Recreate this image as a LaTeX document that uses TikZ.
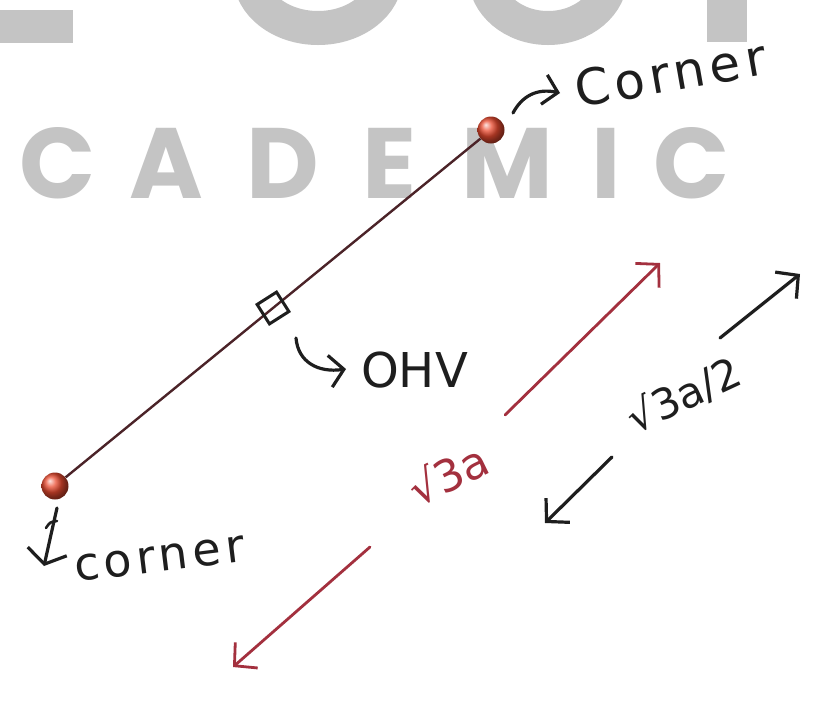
\documentclass[tikz,border=0pt]{standalone}
\usepackage{fontspec}
\setmainfont{DejaVu Sans}
\newfontfamily\wmfont{Poppins}
\newfontfamily\hand{DejaVu Sans}[LetterSpace=10]
\newfontfamily\handn{DejaVu Sans}
\usetikzlibrary{arrows.meta,calc}
\definecolor{wmgray}{HTML}{C4C4C4}
\definecolor{inkc}{HTML}{1E1E1E}
\definecolor{linec}{HTML}{4B2328}
\definecolor{redink}{HTML}{A3303E}
\definecolor{dotred}{HTML}{EA4B30}
\begin{document}
\begin{tikzpicture}[x=1pt,y=-1pt,
  wm/.style={font=\wmfont\bfseries\fontsize{100pt}{100pt}\selectfont, text=wmgray, inner sep=0pt, anchor=base},
  ink/.style={draw=inkc, line width=3.2pt, line cap=round, line join=round},
  redline/.style={draw=redink, line width=2.8pt, line cap=round, line join=round},
  barb/.style={-{Straight Barb[length=16pt,width=34pt]}},
  dot/.style={circle, minimum size=27pt, inner sep=0pt, shading=ball, ball color=dotred},
  lab/.style={inner sep=0pt, text=inkc},
]
\fill[white] (0,0) rectangle (815,705);
\useasboundingbox (0,0) rectangle (815,705);

% watermark
\begin{scope}
\clip (0,0) rectangle (815,705);
\fill[wmgray] (0,10) rectangle (73,43);
\draw[wmgray, line width=34pt] (318,-25) ellipse [x radius=68pt, y radius=53pt];
\draw[wmgray, line width=34pt] (548,-25) ellipse [x radius=63pt, y radius=53pt];
\fill[wmgray] (707,-5) rectangle (747,42);
\end{scope}
\node[wm] (w1) at (58,198) {C};
\node[wm] (w2) at (166,198) {A};
\node[wm] (w3) at (283,198) {D};
\node[wm] (w4) at (390,198) {E};
\node[wm] (w5) at (507,198) {M};
\node[wm] (w6) at (606,198) {I};
\node[wm] (w7) at (692,198) {C};

% main diagonal
\node[dot] (top) at (491,130) {};
\node[dot] (bot) at (55,486) {};
\draw[draw=linec, line width=2.4pt] (top) -- (bot);
\node[draw=inkc, line width=3pt, minimum size=23pt, inner sep=0pt, rotate=32.5] (sq) at (273,308) {};

% labels
\node[lab, anchor=base west, rotate=10, font=\hand\fontsize{50pt}{50pt}\selectfont] (ctop) at (578,108) {Corner};
\node[lab, anchor=base west, rotate=7, font=\hand\fontsize{46pt}{46pt}\selectfont] (cbot) at (76,582) {corner};
\node[lab, anchor=base west, font=\handn\fontsize{48pt}{48pt}\selectfont] (ohv) at (361,387) {OHV};

\coordinate (a1s) at (513,113); \coordinate (a1e) at (560,93);
\draw[ink, -{Straight Barb[length=14pt,width=30pt]}] (a1s) .. controls (522,96) and (537,88) .. (a1e);
\coordinate (a2s) at (57,508); \coordinate (a2e) at (44,566);
\draw[ink, -{Straight Barb[length=13pt,width=40pt]}] (a2s) .. controls (52,530) and (48,548) .. (a2e);
\draw[ink, line width=2.6pt] (46,528) .. controls (50,522) .. (57,521);
\coordinate (a3s) at (296,338); \coordinate (a3e) at (346,369);
\draw[ink, -{Straight Barb[length=14pt,width=32pt]}] (a3s) .. controls (298,362) and (318,373) .. (a3e);

% sqrt(3) a dimension (red)
\coordinate (r1a) at (505,415); \coordinate (r1b) at (660,263);
\coordinate (r2a) at (370,547); \coordinate (r2b) at (233,667);
\draw[redline, barb] (r1a) -- (r1b);
\draw[redline, barb] (r2a) -- (r2b);
\node[inner sep=0pt, text=redink, rotate=26, font=\handn\fontsize{44pt}{44pt}\selectfont] (l1) at (448,474) {√3a};

% sqrt(3) a / 2 dimension (black)
\coordinate (b1a) at (720,338); \coordinate (b1b) at (800,274);
\coordinate (b2a) at (612,457); \coordinate (b2b) at (545,523);
\draw[ink, barb] (b1a) -- (b1b);
\draw[ink, barb] (b2a) -- (b2b);
\node[lab, rotate=25, font=\handn\fontsize{42pt}{42pt}\selectfont] (l2) at (684,395) {√3a/2};
\end{tikzpicture}
\end{document}
